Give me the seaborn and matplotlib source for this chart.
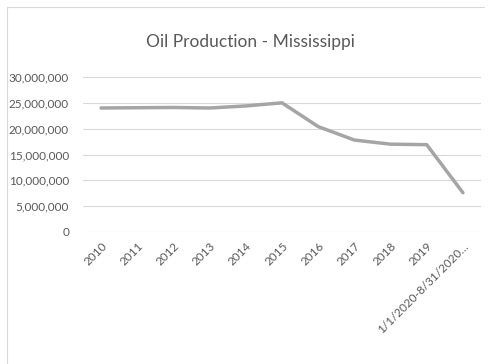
import matplotlib
matplotlib.use("Agg")
import matplotlib.pyplot as plt
import seaborn as sns
import pandas as pd
from matplotlib.lines import Line2D
from matplotlib.ticker import FuncFormatter

categories = ["2010", "2011", "2012", "2013", "2014", "2015", "2016", "2017", "2018", "2019", "1/1/2020-8/31/2020…"]
production = [24000000, 24050000, 24100000, 24000000, 24400000, 25000000, 20400000, 17800000, 17000000, 16900000, 7600000]
y_ticks = [0, 5000000, 10000000, 15000000, 20000000, 25000000, 30000000]

sns.set_theme(style="white")
plt.rcParams['font.family'] = ['Lato', 'DejaVu Sans']

fig = plt.figure(figsize=(4.91, 3.64), dpi=100)
fig.patch.set_facecolor("white")
W, H = 491, 364
ax = fig.add_axes([83 / W, (H - 232) / H, 398 / W, 155 / H])

df = pd.DataFrame({"cat": categories, "val": production})
sns.lineplot(data=df, x="cat", y="val", ax=ax, color="#A5A5A5", linewidth=2.5, sort=False)

ax.set_xlim(-0.5, len(categories) - 0.5)
ax.set_ylim(0, 30000000)
ax.set_yticks(y_ticks)
ax.yaxis.set_major_formatter(FuncFormatter(lambda v, p: f"{int(v):,}"))
ax.grid(axis="y", color="#D9D9D9", linewidth=0.8)
ax.grid(axis="x", visible=False)
ax.set_axisbelow(True)
for s in ax.spines.values():
    s.set_visible(False)
ax.set_xlabel("")
ax.set_ylabel("")
ax.tick_params(axis="both", length=0, colors="#595959", labelsize=8.5)
ax.tick_params(axis="y", pad=10)
ax.set_xticks(range(len(categories)))
ax.set_xticklabels(categories, rotation=45, ha="right", rotation_mode="anchor")
ax.tick_params(axis="x", pad=6)

fig.text(250 / W, 1 - 42 / H, "Oil Production - Mississippi", ha="center", va="center",
         fontsize=12.5, color="#595959")

fig.add_artist(Line2D([7 / W, 7 / W], [0, 1 - 7 / H], color="#D9D9D9", linewidth=0.8, transform=fig.transFigure))
fig.add_artist(Line2D([7 / W, 484 / W], [1 - 7 / H, 1 - 7 / H], color="#D9D9D9", linewidth=0.8, transform=fig.transFigure))

fig.savefig("out.png", dpi=100, facecolor="white")
